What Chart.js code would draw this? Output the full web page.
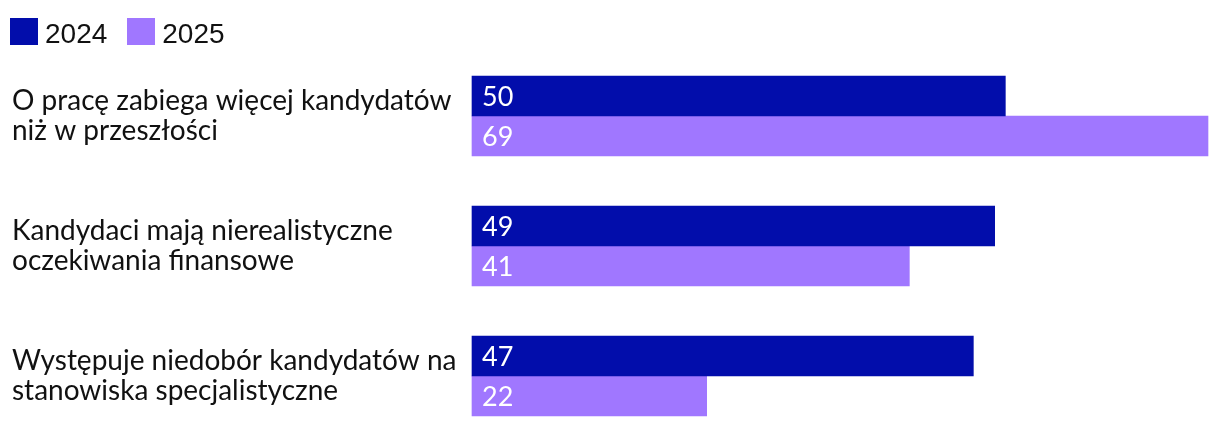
<!DOCTYPE html>
<html>
<head>
<meta charset="utf-8">
<script src="https://cdn.jsdelivr.net/npm/chart.js@4.4.1/dist/chart.umd.min.js"></script>
<style>
    body { margin: 0; background: #fff; }
    #wrap { position: relative; width: 1220px; height: 428px; }
    #legend {
        position: absolute; left: 10px; top: 18px; display: flex;
        font-family: "Liberation Sans", Arial, sans-serif; font-size: 28px; color: #111;
    }
    .legend-item { display: flex; align-items: center; margin-right: 20px; height: 27px; }
    .legend-item span.txt { position: relative; top: 2px; }
    .legend-box { width: 28px; height: 27px; margin-right: 7px; }
</style>
</head>
<body>
<div id="wrap">
    <canvas id="surveyChart" width="1220" height="428"></canvas>
    <div id="legend"></div>
</div>
<script>
// Chart data
const categories = [
    ['O pracę zabiega więcej kandydatów', 'niż w przeszłości'],
    ['Kandydaci mają nierealistyczne', 'oczekiwania finansowe'],
    ['Występuje niedobór kandydatów na', 'stanowiska specjalistyczne']
];
const seriesNames = ['2024', '2025'];
const values2024 = [50, 49, 47];
const values2025 = [69, 41, 22];
const seriesColors = ['#020DAB', '#A077FF'];

// Value labels inside the bars
const barValues = {
    id: 'barValues',
    afterDatasetsDraw(chart) {
        const ctx = chart.ctx;
        ctx.save();
        ctx.fillStyle = '#fff';
        ctx.font = '27px Lato';
        ctx.textAlign = 'left';
        ctx.textBaseline = 'middle';
        chart.data.datasets.forEach((ds, i) => {
            chart.getDatasetMeta(i).data.forEach((bar, j) => {
                ctx.fillText(ds.data[j], bar.base + 10, bar.y + 1);
            });
        });
        ctx.restore();
    }
};

const chart = new Chart(document.getElementById('surveyChart'), {
    type: 'bar',
    data: {
        labels: categories,
        datasets: [
            { label: seriesNames[0], data: values2024, backgroundColor: seriesColors[0] },
            { label: seriesNames[1], data: values2025, backgroundColor: seriesColors[1] }
        ]
    },
    options: {
        indexAxis: 'y',
        responsive: false,
        animation: false,
        datasets: { bar: { barThickness: 40, clip: false } },
        layout: { padding: { left: 12, right: 12, top: 116, bottom: 52 } },
        plugins: {
            legend: { display: false },
            tooltip: { enabled: false }
        },
        scales: {
            x: { min: 0, max: 69, display: false },
            y: {
                offset: false,
                grid: { display: false },
                border: { display: false },
                ticks: {
                    crossAlign: 'far',
                    autoSkip: false,
                    color: '#111',
                    font: { family: 'Lato', size: 28, lineHeight: 1.07 }
                },
                afterFit(axis) { axis.width = 460; }
            }
        }
    },
    plugins: [barValues]
});

// Legend built from the datasets
const legend = document.getElementById('legend');
chart.data.datasets.forEach(ds => {
    const item = document.createElement('div');
    item.className = 'legend-item';
    item.innerHTML = '<span class="legend-box" style="background:' + ds.backgroundColor + '"></span>' +
        '<span class="txt">' + ds.label + '</span>';
    legend.appendChild(item);
});
</script>
</body>
</html>
